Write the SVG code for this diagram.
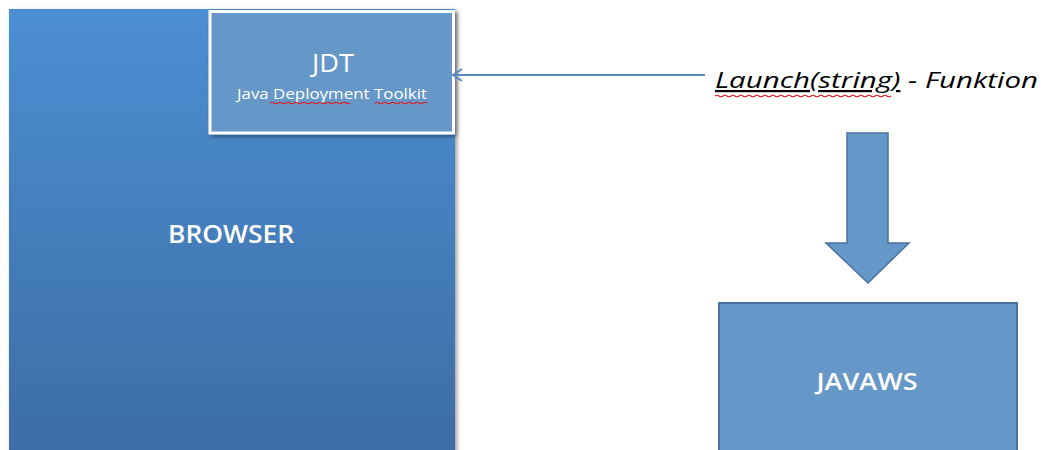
<svg xmlns="http://www.w3.org/2000/svg" width="1041" height="450" viewBox="0 0 1041 450">
<defs>
<linearGradient id="gB" x1="0" y1="0" x2="0" y2="1">
<stop offset="0" stop-color="#4c8fd3"/>
<stop offset="1" stop-color="#3c6da4"/>
</linearGradient>
<filter id="sh" x="-10%" y="-10%" width="130%" height="130%">
<feGaussianBlur in="SourceAlpha" stdDeviation="2"/>
<feOffset dx="2" dy="2"/>
<feComponentTransfer><feFuncA type="linear" slope="0.4"/></feComponentTransfer>
<feMerge><feMergeNode/><feMergeNode in="SourceGraphic"/></feMerge>
</filter>
<marker id="ah" markerWidth="14" markerHeight="14" refX="11" refY="7" orient="auto" markerUnits="userSpaceOnUse">
<path d="M2,1 L11,7 L2,13" fill="none" stroke="#5b8ac0" stroke-width="2"/>
</marker>
</defs>
<style>
.lbl{font-family:"Open Sans","Liberation Sans",sans-serif;fill:#ffffff;text-anchor:middle}
.b{font-weight:600}
.squig{fill:none;stroke:#e02020;stroke-width:1.2}
</style>
<rect width="1041" height="450" fill="#ffffff"/>
<g id="browser">
<rect x="9" y="9" width="446" height="450" fill="url(#gB)" filter="url(#sh)"/>
<text class="lbl b" x="231" y="243" font-size="26" textLength="126" lengthAdjust="spacingAndGlyphs">BROWSER</text>
</g>
<g id="jdt">
<rect x="210" y="11.5" width="243.5" height="121.5" fill="#6597c8" stroke="#ffffff" stroke-width="3" filter="url(#sh)"/>
<text class="lbl" x="333" y="72" font-size="26" textLength="42" lengthAdjust="spacingAndGlyphs">JDT</text>
<text class="lbl" x="332" y="99" font-size="14" textLength="190" lengthAdjust="spacingAndGlyphs">Java Deployment Toolkit</text>
<path class="squig" d="M270,103 q2,-1.5 4,0 t4,0 t4,0 t4,0 t4,0 t4,0 t4,0 t4,0 t4,0 t4,0 t4,0 t4,0 t4,0 t4,0 t4,0 t4,0 t4,0 t4,0 t4,0 t4,0"/>
<path class="squig" d="M375,103 q2,-1.5 4,0 t4,0 t4,0 t4,0 t4,0 t4,0 t4,0 t4,0 t4,0 t4,0 t4,0 t4,0 t4,0"/>
</g>
<g id="launch">
<text x="715" y="88" font-family="'Open Sans','Liberation Sans',sans-serif" font-style="italic" font-size="22" fill="#000000" textLength="323" lengthAdjust="spacingAndGlyphs"><tspan text-decoration="underline">Launch(string)</tspan> - Funktion</text>
<path class="squig" d="M715,96 q2,-1.5 4,0 t4,0 t4,0 t4,0 t4,0 t4,0 t4,0 t4,0 t4,0 t4,0 t4,0 t4,0 t4,0 t4,0 t4,0 t4,0 t4,0 t4,0 t4,0 t4,0 t4,0 t4,0 t4,0 t4,0 t4,0 t4,0 t4,0 t4,0 t4,0 t4,0 t4,0 t4,0 t4,0 t4,0 t4,0 t4,0 t4,0 t4,0 t4,0 t4,0 t4,0 t4,0 t4,0 t4,0"/>
</g>
<g id="javaws">
<rect x="719" y="303" width="298" height="160" fill="#6597c8" stroke="#4a72a0" stroke-width="2"/>
<text class="lbl b" x="867" y="390" font-size="24" textLength="101" lengthAdjust="spacingAndGlyphs">JAVAWS</text>
</g>
<g id="connectors">
<line x1="705" y1="75" x2="453" y2="75" stroke="#5b8ac0" stroke-width="2" marker-end="url(#ah)"/>
<path d="M847,133 L888,133 L888,243 L909,243 L868,283 L826,243 L847,243 Z" fill="#6597c8" stroke="#4a72a0" stroke-width="1.5" stroke-linejoin="miter"/>
</g>
</svg>
